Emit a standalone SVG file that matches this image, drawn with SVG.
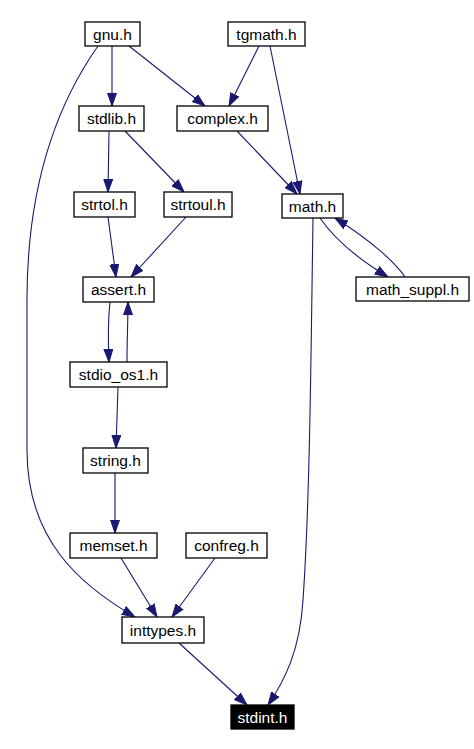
<svg xmlns="http://www.w3.org/2000/svg" width="474" height="749" viewBox="0 0 474 749">
<style>
.n rect{fill:#fff;stroke:#000;stroke-width:1.3}
.n text{font-family:"Liberation Sans",Arial,sans-serif;font-size:15.5px;text-anchor:middle;fill:#000}
.dark rect{fill:#000}
.dark text{fill:#fff}
.e path{fill:none;stroke:#191970;stroke-width:1.1;marker-end:url(#ah)}
</style>
<defs>
<marker id="ah" markerUnits="userSpaceOnUse" markerWidth="13" markerHeight="10" refX="13" refY="5" orient="auto">
<path d="M0,0.5 L13,5 L0,9.5 z" fill="#191970" stroke="#191970"/>
</marker>
</defs>
<rect width="474" height="749" fill="#fff"/>
<g class="e">
<path d="M112,46 L112,106"/>
<path d="M129,46 L205,106"/>
<path d="M98,46 C60,100 27,180 27,300 L27,450 C27,540 80,585 135,617"/>
<path d="M259,46 L229,106"/>
<path d="M270,46 L300,194"/>
<path d="M237,131 L297,194"/>
<path d="M109,131 L108,192"/>
<path d="M125,131 L184,192"/>
<path d="M108,217 L116,277"/>
<path d="M186,217 L131,277"/>
<path d="M320,218 C335,240 360,260 388,277"/>
<path d="M405,277 C395,262 370,240 335,218"/>
<path d="M313,218 C311,350 310,500 303,600 C300,650 285,680 268,705"/>
<path d="M110,302 C108,320 108,340 109,362"/>
<path d="M127,362 C127,340 128,320 128,302"/>
<path d="M118,387 L116,448"/>
<path d="M115,473 L115,533"/>
<path d="M121,558 L157,617"/>
<path d="M215,558 L172,617"/>
<path d="M179,643 L247,705"/>
</g>
<g id="gnu" class="n"><rect x="85" y="22" width="55" height="24"/><text x="112.5" y="39.5">gnu.h</text></g>
<g id="tgmath" class="n"><rect x="228" y="22" width="77" height="24"/><text x="266.5" y="39.5">tgmath.h</text></g>
<g id="stdlib" class="n"><rect x="79" y="106" width="65" height="25"/><text x="111.5" y="124">stdlib.h</text></g>
<g id="complex" class="n"><rect x="177" y="106" width="91" height="25"/><text x="222.5" y="124">complex.h</text></g>
<g id="strtol" class="n"><rect x="74" y="192" width="61" height="25"/><text x="104.5" y="210">strtol.h</text></g>
<g id="strtoul" class="n"><rect x="164" y="192" width="68" height="25"/><text x="198" y="210">strtoul.h</text></g>
<g id="math" class="n"><rect x="282" y="194" width="61" height="24"/><text x="312.5" y="211.5">math.h</text></g>
<g id="math_suppl" class="n"><rect x="356" y="277" width="113" height="24"/><text x="412.5" y="294.5">math_suppl.h</text></g>
<g id="assert" class="n"><rect x="83" y="277" width="71" height="25"/><text x="118.5" y="295">assert.h</text></g>
<g id="stdio_os1" class="n"><rect x="70" y="362" width="97" height="25"/><text x="118.5" y="380">stdio_os1.h</text></g>
<g id="string" class="n"><rect x="83" y="448" width="65" height="25"/><text x="115.5" y="466">string.h</text></g>
<g id="memset" class="n"><rect x="70" y="533" width="87" height="25"/><text x="113.5" y="551">memset.h</text></g>
<g id="confreg" class="n"><rect x="186" y="533" width="81" height="25"/><text x="226.5" y="551">confreg.h</text></g>
<g id="inttypes" class="n"><rect x="122" y="617" width="82" height="26"/><text x="163" y="635.5">inttypes.h</text></g>
<g id="stdint" class="n dark"><rect x="231" y="705" width="63" height="24"/><text x="262.5" y="722.5">stdint.h</text></g>
</svg>
